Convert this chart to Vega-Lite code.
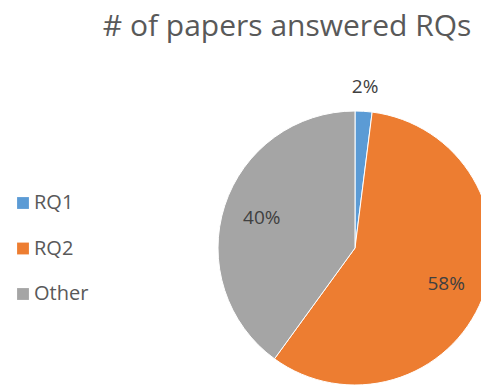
{
  "$schema": "https://vega.github.io/schema/vega-lite/v6.json",
  "width": 710,
  "height": 376,
  "autosize": {"type": "none"},
  "padding": {"top": 60, "left": 0, "right": 0, "bottom": 0},
  "background": "white",
  "title": {
    "text": "# of papers answered RQs",
    "anchor": "middle",
    "frame": "group",
    "dx": -68,
    "offset": 18,
    "fontSize": 30,
    "font": "Open Sans",
    "fontWeight": "normal",
    "color": "#595959"
  },
  "config": {"view": {"stroke": null}},
  "data": {
    "values": [
      {"category": "RQ1", "value": 2, "label": "2%", "rank": 1},
      {"category": "RQ2", "value": 58, "label": "58%", "rank": 2},
      {"category": "Other", "value": 40, "label": "40%", "rank": 3}
    ]
  },
  "encoding": {
    "theta": {"field": "value", "type": "quantitative", "stack": true},
    "order": {"field": "rank", "type": "quantitative"},
    "color": {
      "field": "category",
      "type": "nominal",
      "scale": {"domain": ["RQ1", "RQ2", "Other"], "range": ["#5B9BD5", "#ED7D31", "#A5A5A5"]},
      "legend": {
        "title": null,
        "orient": "none",
        "legendX": 13,
        "legendY": 133,
        "symbolType": "square",
        "symbolSize": 140,
        "symbolStrokeWidth": 0,
        "symbolOpacity": 1,
        "labelFont": "Open Sans",
        "labelFontSize": 20,
        "labelColor": "#595959",
        "rowPadding": 25.5,
        "labelOffset": 1,
        "padding": 0
      }
    }
  },
  "layer": [
    {"mark": {"type": "arc", "outerRadius": 137, "stroke": "white", "strokeWidth": 1}},
    {
      "mark": {"type": "text", "radius": 98, "font": "Open Sans", "fontSize": 19},
      "encoding": {
        "text": {"condition": {"test": "datum.category == 'RQ1'", "value": ""}, "field": "label"},
        "color": {"value": "#404040"}
      }
    },
    {
      "mark": {"type": "text", "radius": 161, "font": "Open Sans", "fontSize": 19},
      "encoding": {
        "text": {"condition": {"test": "datum.category != 'RQ1'", "value": ""}, "field": "label"},
        "color": {"value": "#404040"}
      }
    }
  ]
}
